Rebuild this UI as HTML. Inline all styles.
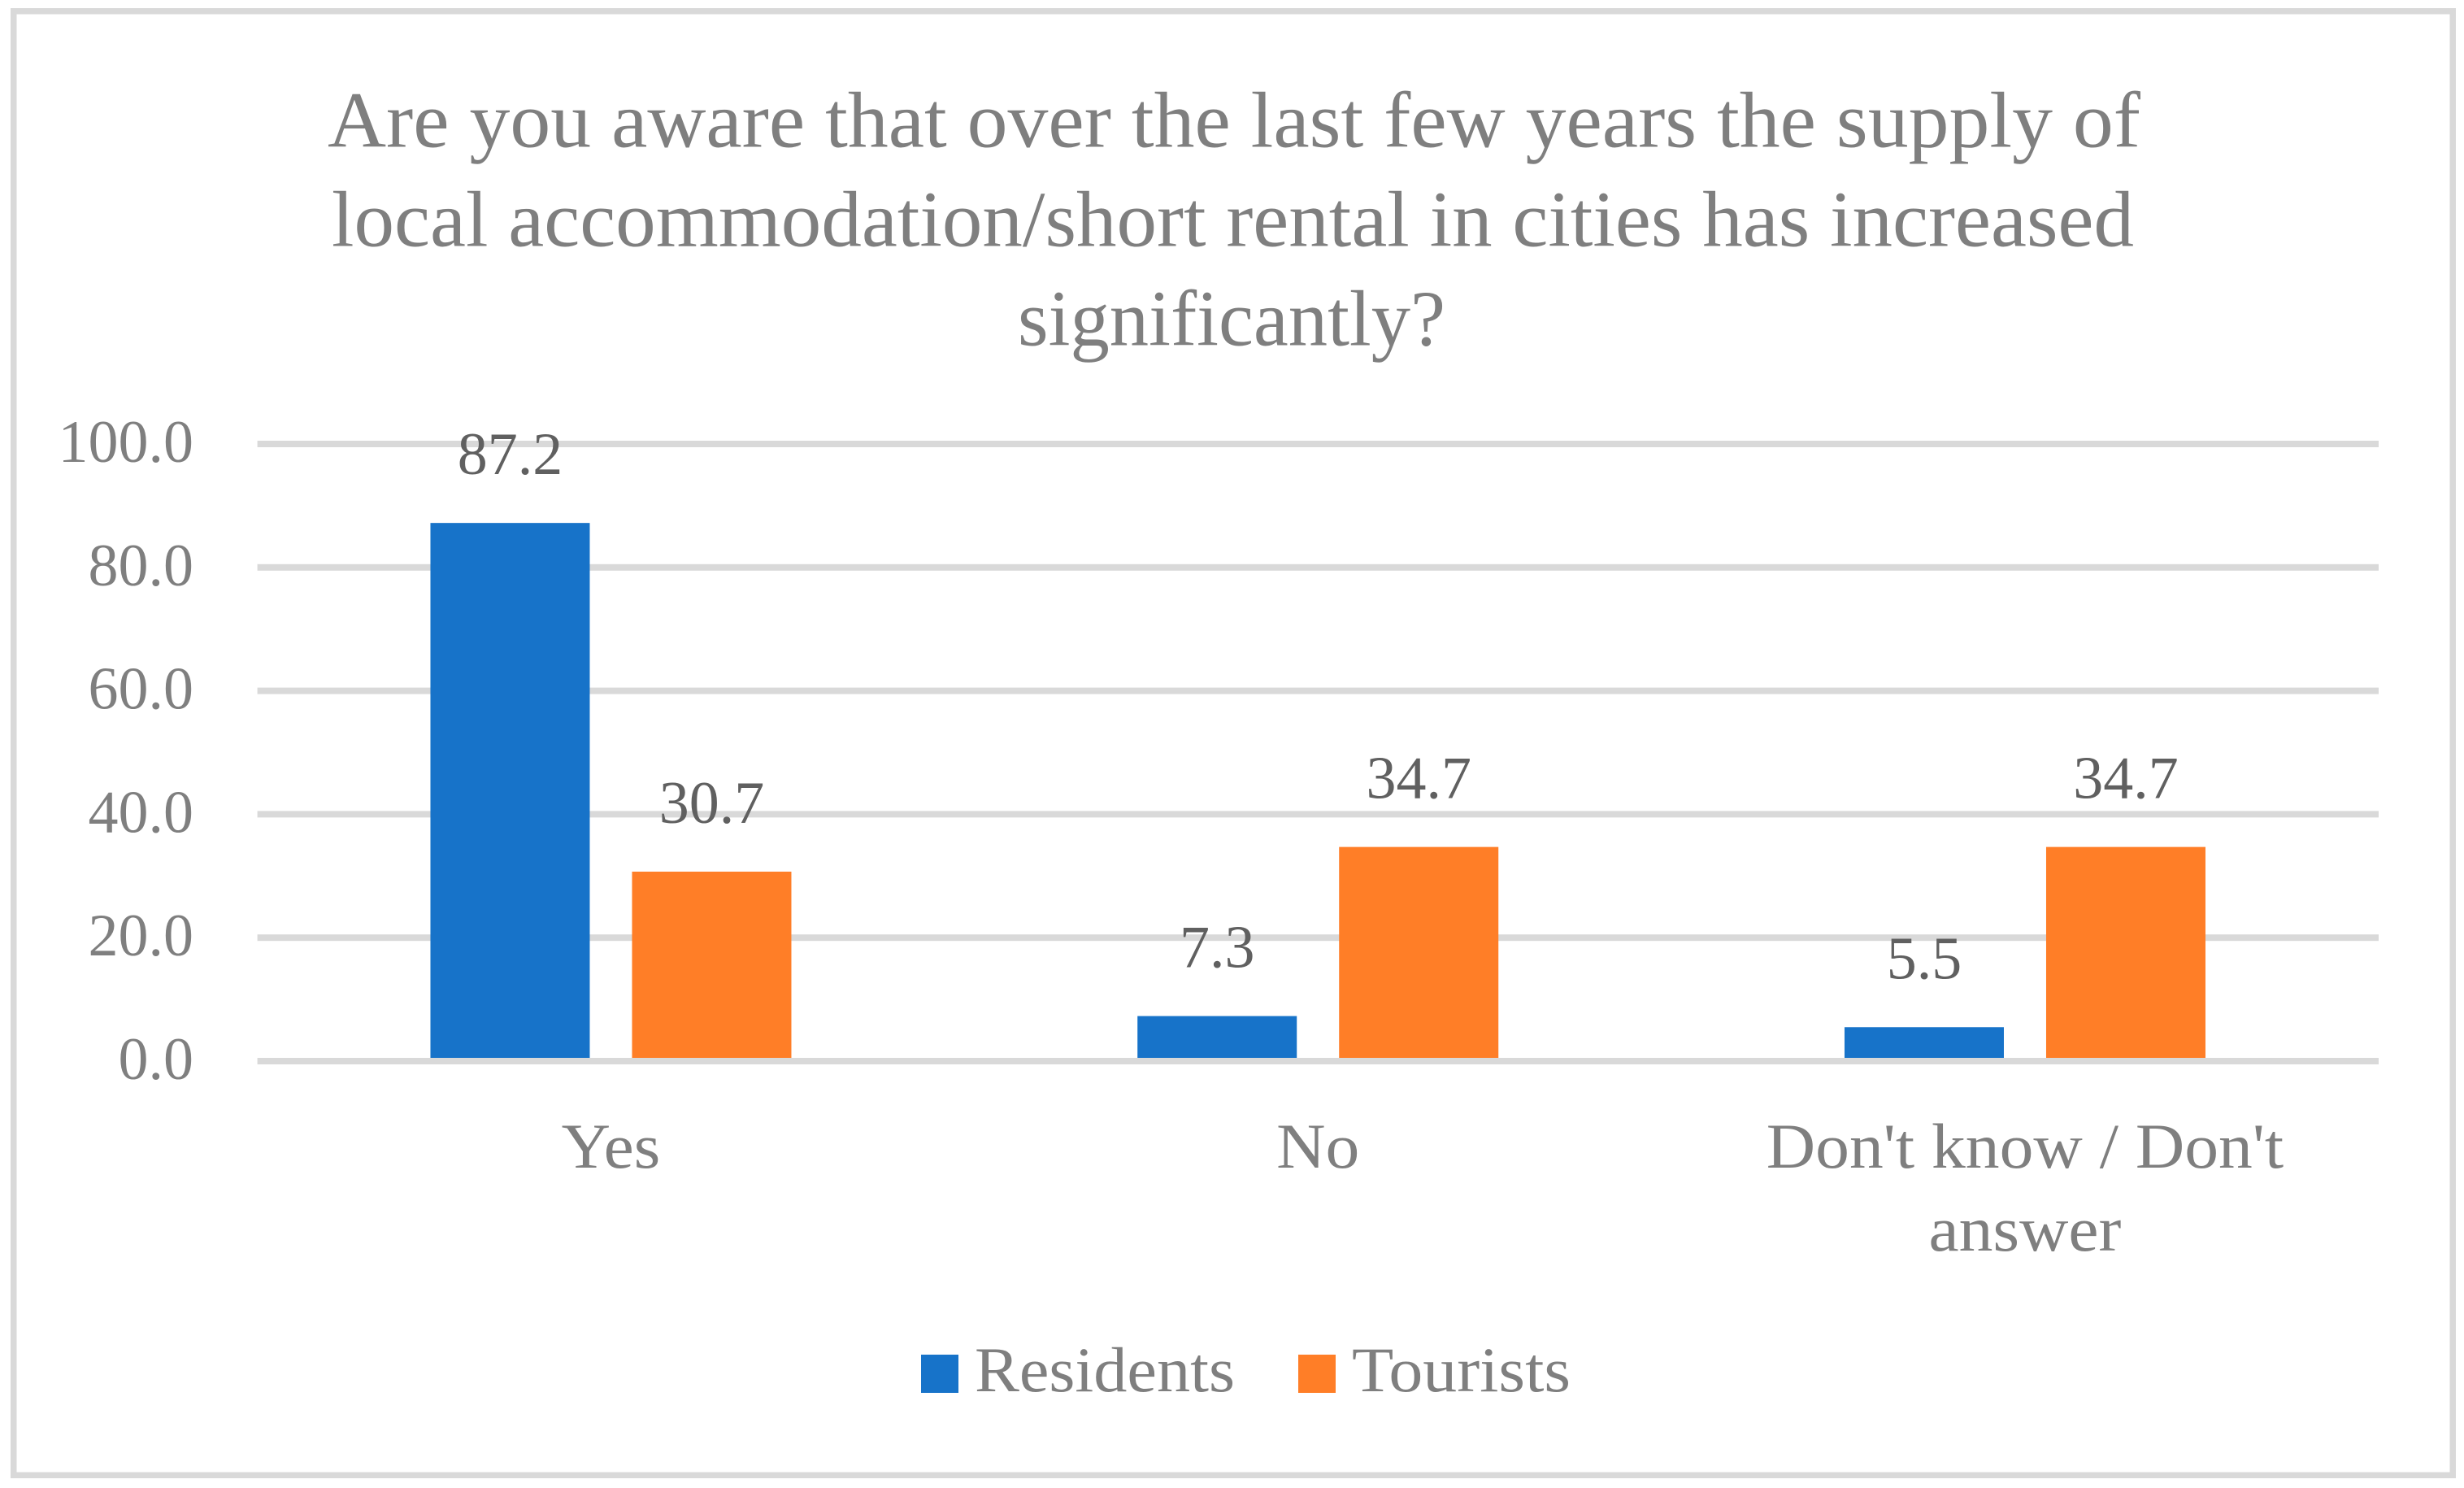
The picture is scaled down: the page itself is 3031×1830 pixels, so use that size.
<!DOCTYPE html>
<html lang="en">
<head>
<meta charset="utf-8">
<title>Awareness of short rental supply</title>
<style>
  html, body { margin: 0; padding: 0; background: #fff; }
  body { width: 3031px; height: 1830px; overflow: hidden; }
  svg { display: block; font-family: "Liberation Serif", serif; }
  .title { font-size: 97px; fill: #7f7f7f; }
  .tick { font-size: 74px; fill: #7f7f7f; text-anchor: end; }
  .cat { font-size: 78px; fill: #7f7f7f; text-anchor: middle; }
  .val { font-size: 74px; fill: #606060; text-anchor: middle; }
  .leg { font-size: 78px; fill: #7f7f7f; }
</style>
</head>
<body>
<svg id="chart" width="3031" height="1830" viewBox="0 0 3031 1830" xmlns="http://www.w3.org/2000/svg">
  <rect x="16.75" y="13.75" width="3000.5" height="1800.5" fill="#fff" stroke="#d9d9d9" stroke-width="7.5"/>
  <g>
    <text class="title" x="403" y="180.5" textLength="2230" lengthAdjust="spacingAndGlyphs">Are you aware that over the last few years the supply of</text>
    <text class="title" x="408" y="302.5" textLength="2217" lengthAdjust="spacingAndGlyphs">local accommodation/short rental in cities has increased</text>
    <text class="title" x="1252" y="424.5" textLength="526" lengthAdjust="spacingAndGlyphs">significantly?</text>
  </g>
  <g id="grid"></g>
  <g id="bars"></g>
  <g id="yticks"></g>
  <g id="xticks"></g>
  <g id="values"></g>
  <g>
    <g>
      <rect x="1133" y="1666" width="46" height="47" fill="#1773c9"/>
      <text class="leg" x="1199" y="1711" textLength="320" lengthAdjust="spacingAndGlyphs">Residents</text>
    </g>
    <g>
      <rect x="1597" y="1666" width="46" height="47" fill="#ff7e27"/>
      <text class="leg" x="1663" y="1711" textLength="269" lengthAdjust="spacingAndGlyphs">Tourists</text>
    </g>
  </g>
</svg>
<script>
const categories = [["Yes"], ["No"], ["Don't know / Don't", "answer"]];
const residents = [87.2, 7.3, 5.5];
const tourists = [30.7, 34.7, 34.7];
const yTicks = [0, 20, 40, 60, 80, 100];

const NS = "http://www.w3.org/2000/svg";
const plotLeft = 316.6, plotRight = 2926, zeroY = 1305, pxPerUnit = 7.59;
const bandWidth = 869.75, barWidth = 196, barOffset = 124;
const catStretch = 1.072, catBaseline = 1436, catLineHeight = 102;

function yScale(v) { return zeroY - v * pxPerUnit; }
function bandCenter(i) { return plotLeft + bandWidth * (i + 0.5); }
function make(tag, parentId, attrs, text) {
  const el = document.createElementNS(NS, tag);
  for (const k in attrs) el.setAttribute(k, attrs[k]);
  if (text !== undefined) el.textContent = text;
  document.getElementById(parentId).appendChild(el);
  return el;
}

yTicks.forEach(function (t) {
  const line = make("rect", "grid", { x: plotLeft, y: yScale(t) - 4, width: plotRight - plotLeft, height: 8, fill: "#d9d9d9" });
  
  
  const label = make("text", "yticks", { class: "tick", x: 238, y: yScale(t) + 22 }, t.toFixed(1));
  
  
});

function drawSeries(values, offset, color, seriesName) {
  values.forEach(function (v, i) {
    const cx = bandCenter(i) + offset;
    const bar = make("rect", "bars", { x: cx - barWidth / 2, y: yScale(v), width: barWidth, height: zeroY - yScale(v) - 4, fill: color });
    
    
    const val = make("text", "values", { class: "val", x: cx, y: yScale(v) - 60 }, v.toFixed(1));
    
    
  });
}
drawSeries(residents, -barOffset, "#1773c9", "residents");
drawSeries(tourists, barOffset, "#ff7e27", "tourists");

categories.forEach(function (lines, i) {
  lines.forEach(function (line, j) {
    const label = make("text", "xticks", { class: "cat", x: bandCenter(i), y: catBaseline + j * catLineHeight }, line);
    
    
    label.setAttribute("textLength", label.getComputedTextLength() * catStretch);
    label.setAttribute("lengthAdjust", "spacingAndGlyphs");
  });
});
</script>
</body>
</html>
